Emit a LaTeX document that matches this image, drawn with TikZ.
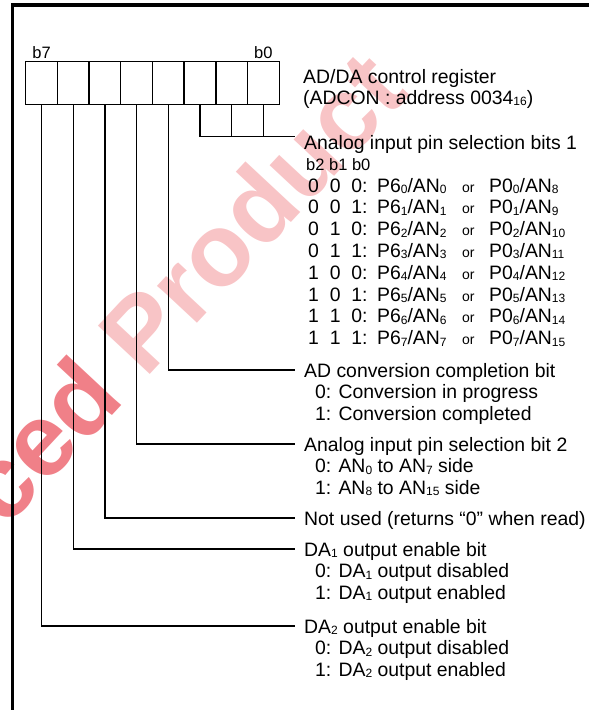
\documentclass[tikz,border=0pt]{standalone}
\usepackage{fontspec}
\setmainfont{Liberation Sans}
\newcommand\sbs[1]{\raisebox{-1.5pt}{\fontsize{12}{12}\selectfont #1}}
\newcommand\orw{{\fontsize{14}{14}\selectfont or}}
\definecolor{wmA}{RGB}{240,128,136}
\definecolor{wmB}{RGB}{248,196,198}
\begin{document}
\begin{tikzpicture}[x=1pt,y=-1pt,
  txt/.style={anchor=base west, inner sep=0pt, font=\fontsize{19.4}{21.7}\selectfont},
  smalltxt/.style={anchor=base west, inner sep=0pt, font=\fontsize{16.5}{18}\selectfont},
  cell/.style={draw, line width=1.4pt, minimum width=31.69pt, minimum height=43pt, inner sep=0pt, anchor=north west},
  conn/.style={line width=1.2pt},
  framel/.style={line width=3.4pt, line join=miter}]
\useasboundingbox (0,0) rectangle (589,710);
\clip (0,0) rectangle (589,710);
% watermark
\node[rotate=47, anchor=base west, inner sep=0pt, font=\fontsize{103}{103}\selectfont\bfseries] (wm) at (5,530) {\textcolor{wmA}{ced} \textcolor{wmB}{Product}};
% frame
\draw[framel] (12.5,730) -- (12.5,5) -- (610,5);
% register cells
\foreach \i/\b in {0/7,1/6,2/5,3/4,4/3,5/2,6/1,7/0}
  \node[cell] (c\b) at ({25+31.69*\i},61) {};
\node[smalltxt, anchor=base] (lb7) at ([yshift=3pt]c7.north) {b7};
\node[smalltxt, anchor=base] (lb0) at ([yshift=3pt]c0.north) {b0};
% register title
\node[txt] (title1) at (303,83) {AD/DA control register};
\node[txt] (title2) at (303,104) {(ADCON : address 0034\sbs{16})};
% bits 1
\node[txt] (h1) at (304,149) {Analog input pin selection bits 1};
\node[smalltxt] (bb) at (306,170) {b2 b1 b0};
\foreach \a/\b/\c/\k/\m [count=\n from 0] in {0/0/0/0/8,0/0/1/1/9,0/1/0/2/10,0/1/1/3/11,1/0/0/4/12,1/0/1/5/13,1/1/0/6/14,1/1/1/7/15} {
  \node[txt] (rb\n) at (308,{192+21.8*\n}) {\a~~\b~~\c:};
  \node[txt] (rp\n) at (377,{192+21.8*\n}) {P6\sbs{\k}/AN\sbs{\k}};
  \node[txt] (ro\n) at (462,{192+21.8*\n}) {\orw};
  \node[txt] (rq\n) at (489,{192+21.8*\n}) {P0\sbs{\k}/AN\sbs{\m}};
}
% AD conversion
\node[txt] (h3) at (304,377) {AD conversion completion bit};
\node[txt] (h3a) at (315,398.7) {0: Conversion in progress};
\node[txt] (h3b) at (315,420.4) {1: Conversion completed};
% bit 2
\node[txt] (h4) at (304,451) {Analog input pin selection bit 2};
\node[txt] (h4a) at (315,472.7) {0: AN\sbs{0} to AN\sbs{7} side};
\node[txt] (h4b) at (315,494.4) {1: AN\sbs{8} to AN\sbs{15} side};
% not used
\node[txt] (h5) at (304,525) {Not used (returns ``0'' when read)};
% DA1
\node[txt] (h6) at (304,556) {DA\sbs{1} output enable bit};
\node[txt] (h6a) at (315,577.7) {0: DA\sbs{1} output disabled};
\node[txt] (h6b) at (315,599.4) {1: DA\sbs{1} output enabled};
% DA2
\node[txt] (h7) at (304,633) {DA\sbs{2} output enable bit};
\node[txt] (h7a) at (315,654.7) {0: DA\sbs{2} output disabled};
\node[txt] (h7b) at (315,676.4) {1: DA\sbs{2} output enabled};
% connector ends
\coordinate (e0) at (295,136.7);
\coordinate (e3) at (295,370);
\coordinate (e4) at (295,444);
\coordinate (e5) at (295,518);
\coordinate (e6) at (295,549);
\coordinate (e7) at (295,626);
% connectors
\draw[conn] (c2.south) -- (c2.south |- e0) -- (e0);
\draw[conn] (c1.south) -- (c1.south |- e0);
\draw[conn] (c0.south) -- (c0.south |- e0);
\draw[conn] (c3.south) |- (e3);
\draw[conn] (c4.south) |- (e4);
\draw[conn] (c5.south) |- (e5);
\draw[conn] (c6.south) |- (e6);
\draw[conn] (c7.south) |- (e7);
\end{tikzpicture}
\end{document}
